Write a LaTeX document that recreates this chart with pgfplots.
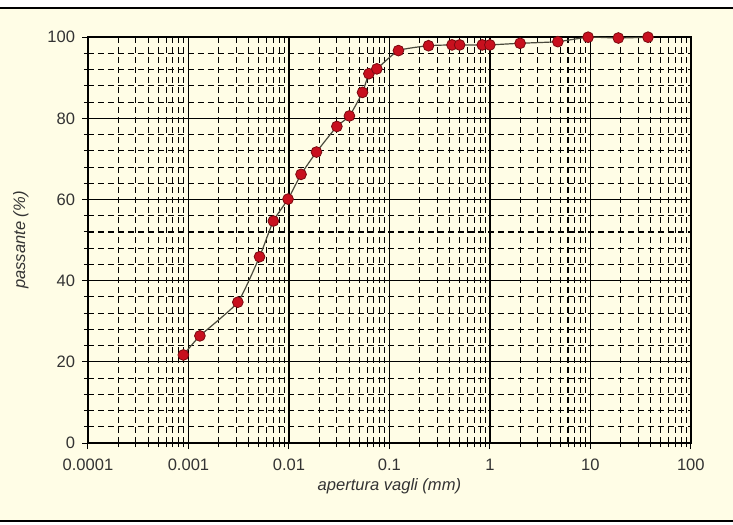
\documentclass[border=0pt]{standalone}
\usepackage{fontspec}
\setmainfont{Liberation Sans}
\usepackage{pgfplots}
\pgfplotsset{compat=1.18}

\definecolor{cream}{HTML}{FFFDE6}
\definecolor{dotred}{HTML}{C8101E}
\definecolor{dotedge}{HTML}{7A0A10}
\definecolor{curve}{HTML}{4A4A3C}
\definecolor{txt}{HTML}{333333}

\begin{document}
\begin{tikzpicture}
% chart area: 733x525 px at 0.5bp per px
\useasboundingbox (0,0) rectangle (366.5bp,262.5bp);
\fill[cream] (0,2bp) rectangle (366.5bp,258.5bp);
\draw[line width=1bp] (0,258.5bp) -- (366.5bp,258.5bp);
\draw[line width=1bp] (0,2bp) -- (366.5bp,2bp);

\begin{axis}[
  at={(44bp,41bp)}, anchor=south west,
  scale only axis, width=301.4bp, height=202.9bp,
  xmode=log, xmin=0.0001, xmax=100,
  ymin=0, ymax=100,
  xtick={0.0001,0.001,0.01,0.1,1,10,100},
  xticklabels={0.0001,0.001,0.01,0.1,1,10,100},
  ytick={0,20,40,60,80,100},
  minor y tick num=4,
  grid=both,
  major grid style={black, line width=0.65bp},
  minor grid style={black, line width=0.55bp, dash pattern=on 3bp off 2bp},
  axis line style={black, line width=0.7bp},
  xtick pos=bottom, ytick pos=left,
  tick align=outside,
  major tick length=3bp, minor tick length=2bp,
  tick style={black, line width=0.5bp},
  tick label style={font=\fontsize{8.3}{10}\selectfont, text=txt},
  xticklabel style={yshift=-1.5bp},
  /pgf/number format/assume math mode=true,
  xlabel={\textit{apertura vagli (mm)}},
  ylabel={\textit{passante (\%)}},
  label style={font=\fontsize{8.3}{10}\selectfont, text=txt},
  xlabel style={yshift=3bp},
  ylabel style={yshift=2.5bp},
  clip=false,
]
\addplot[curve, line width=0.6bp, smooth, tension=0.3,
  mark=*, mark size=2.7bp,
  mark options={fill=dotred, draw=dotedge, line width=0.4bp}]
  coordinates {
  (0.00089,21.7) (0.0013,26.4) (0.0031,34.7) (0.0051,45.9)
  (0.0070,54.7) (0.0098,60.1) (0.0132,66.2) (0.0188,71.7)
  (0.030,78.0) (0.040,80.6) (0.054,86.4) (0.0625,91.0)
  (0.075,92.2) (0.123,96.7) (0.245,97.9) (0.42,98.1)
  (0.50,98.1) (0.84,98.1) (1.0,98.1) (2.0,98.5)
  (4.75,98.9) (9.5,100) (19,99.8) (37.5,100)
  };
\end{axis}
\end{tikzpicture}
\end{document}
